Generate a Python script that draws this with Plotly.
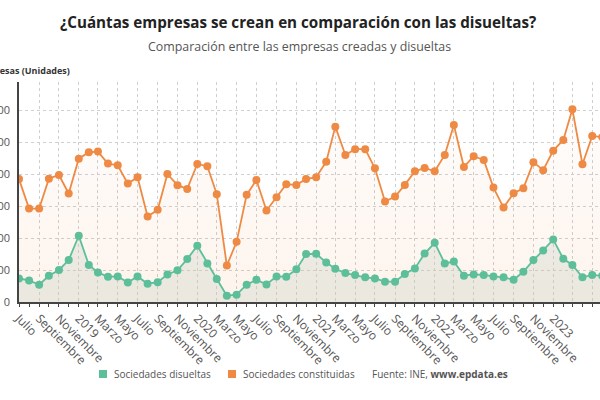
import pandas as pd
import plotly.graph_objects as go

# monthly series, July 2018 -> June 2023
meses = pd.date_range("2018-07-01", periods=60, freq="MS")

disueltas = [1470, 1350, 1080, 1640, 2000, 2620, 4140, 2310, 1850, 1580,
             1600, 1220, 1600, 1140, 1240, 1720, 1980, 2680, 3520, 2410,
             1440, 390, 460, 1080, 1390, 1100, 1600, 1580, 2040, 3000,
             3010, 2470, 2080, 1810, 1690, 1540, 1470, 1270, 1270, 1750,
             2100, 3030, 3700, 2410, 2530, 1640, 1720, 1690, 1600, 1540,
             1390, 1890, 2620, 3220, 3910, 2700, 2310, 1540, 1690, 1640]

constituidas = [7680, 5840, 5840, 7710, 7940, 6780, 8960, 9360, 9400, 8650,
                8550, 7400, 7800, 5340, 5760, 8000, 7300, 7070, 8630, 8490,
                6740, 2280, 3760, 6700, 7630, 5720, 6550, 7360, 7320, 7680,
                7800, 8770, 10960, 9190, 9550, 9550, 8360, 6280, 6590, 7320,
                8170, 8380, 8170, 9190, 11060, 8440, 9110, 8880, 7150, 5900,
                6800, 7110, 8740, 8240, 9460, 10130, 12040, 8610, 10380, 10300]

tick_fechas = meses[0:59:2]
tick_textos = ["Julio", "Septiembre", "Noviembre", "2019", "Marzo", "Mayo",
               "Julio", "Septiembre", "Noviembre", "2020", "Marzo", "Mayo",
               "Julio", "Septiembre", "Noviembre", "2021", "Marzo", "Mayo",
               "Julio", "Septiembre", "Noviembre", "2022", "Marzo", "Mayo",
               "Julio", "Septiembre", "Noviembre", "2023", "Marzo", "Mayo"]

VERDE = "#5dbf9a"
NARANJA = "#ee8a44"
FONT = "Open Sans"

fig = go.Figure()

fig.add_scatter(x=meses, y=constituidas, mode="lines+markers",
                name="Sociedades constituidas", showlegend=False,
                line=dict(color=NARANJA, width=1.8),
                marker=dict(color=NARANJA, size=8),
                fill="tozeroy",
                fillgradient=dict(type="vertical", start=0, stop=12000,
                                  colorscale=[[0, "rgba(238,138,68,0.10)"],
                                              [1, "rgba(238,138,68,0.02)"]]))

fig.add_scatter(x=meses, y=disueltas, mode="lines+markers",
                name="Sociedades disueltas", showlegend=False,
                line=dict(color=VERDE, width=1.8),
                marker=dict(color=VERDE, size=8),
                fill="tozeroy", fillcolor="rgba(200,208,196,0.32)")

fig.update_xaxes(range=["2018-07-01", "2023-05-25"], automargin=False,
                 tickvals=tick_fechas, ticktext=tick_textos, tickangle=45,
                 showgrid=True, gridcolor="#cfcfcf", griddash="dot", gridwidth=1,
                 showline=True, linecolor="#444", linewidth=1.5,
                 ticks="outside", ticklen=3, tickcolor="#444",
                 minor=dict(dtick="M1", tick0="2018-07-01", ticks="outside",
                            ticklen=3, tickcolor="#444", showgrid=False),
                 tickfont=dict(family=FONT, size=12, color="#555"))

fig.update_yaxes(range=[0, 13750], dtick=2000, tickformat=",d", automargin=False,
                 showgrid=True, gridcolor="#cfcfcf", griddash="dot", gridwidth=1,
                 showline=True, linecolor="#444", linewidth=1.5,
                 zeroline=False, ticks="", ticklabelstandoff=5,
                 tickfont=dict(family=FONT, size=11, color="#555"))

L, R, T, B, W, H = 19, 0, 82, 98, 600, 400
pw, ph = W - L - R, H - T - B


def px(x):
    return (x - L) / pw


def py(y):
    return (H - B - y) / ph


anotaciones = [
    dict(text="<b>¿Cuántas empresas se crean en comparación con las disueltas?</b>",
         x=px(298), y=py(22), font=dict(size=15.2, color="#222")),
    dict(text="Comparación entre las empresas creadas y disueltas",
         x=px(299), y=py(47), font=dict(size=12.4, color="#555")),
    dict(text="<b>Empresas (Unidades)</b>", x=px(72), y=py(70), xanchor="right",
         font=dict(size=9, color="#333")),
    dict(text="Sociedades disueltas", x=px(112), y=py(374), xanchor="left",
         font=dict(size=10, color="#555")),
    dict(text="Sociedades constituidas", x=px(241), y=py(374), xanchor="left",
         font=dict(size=10, color="#555")),
    dict(text="Fuente: INE, <b>www.epdata.es</b>", x=px(370), y=py(374),
         xanchor="left", font=dict(size=10, color="#555")),
]
for a in anotaciones:
    a.setdefault("xanchor", "center")
    a.update(xref="paper", yref="paper", yanchor="middle", showarrow=False)
    a["font"]["family"] = FONT

formas = []
for cx, col in [(103, VERDE), (232, NARANJA)]:
    formas.append(dict(type="rect", xref="paper", yref="paper",
                       x0=px(cx - 4), x1=px(cx + 4), y0=py(378), y1=py(370),
                       fillcolor=col, line=dict(width=0)))

fig.update_layout(width=W, height=H, margin=dict(l=L, r=R, t=T, b=B),
                  paper_bgcolor="white", plot_bgcolor="white",
                  separators=",.", showlegend=False,
                  font=dict(family=FONT),
                  annotations=anotaciones, shapes=formas)

# the page's default body margin would push the figure 8px down and right
fig.write_html("out.html", config={"displayModeBar": False},
               post_script="document.body.style.margin = '0';")
